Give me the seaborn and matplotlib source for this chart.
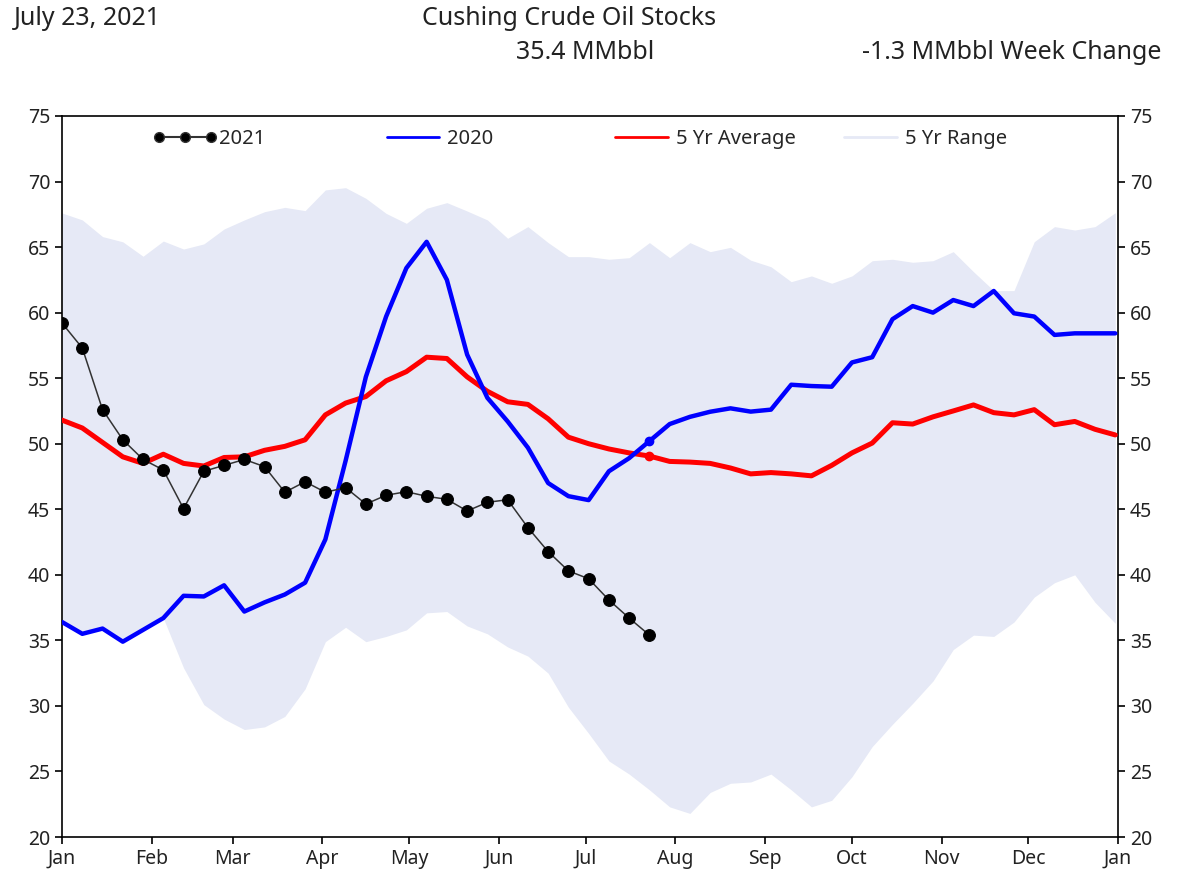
import matplotlib
matplotlib.use('Agg')
import matplotlib.pyplot as plt
import matplotlib.dates as mdates
from matplotlib.lines import Line2D
import numpy as np
import pandas as pd
import seaborn as sns

sns.set_theme(style='ticks')
plt.rcParams['font.family'] = ['Noto Sans', 'DejaVu Sans']

# weekly values, Jan 1 .. Dec 31
weeks = pd.date_range('2021-01-01', periods=53, freq='7D')

stocks_2021 = [59.2, 57.3, 52.6, 50.3, 48.8, 48.0, 45.05, 47.9, 48.35, 48.8,
               48.25, 46.3, 47.1, 46.3, 46.65, 45.4, 46.07, 46.34, 45.99, 45.76,
               44.87, 45.53, 45.73, 43.6, 41.77, 40.3, 39.7, 38.08, 36.7, 35.4]

stocks_2020 = [36.4, 35.5, 35.9, 34.9, 35.8, 36.7, 38.4, 38.35, 39.2, 37.2,
               37.9, 38.5, 39.4, 42.7, 48.7, 55.1, 59.7, 63.4, 65.4, 62.5,
               56.8, 53.5, 51.7, 49.7, 47.0, 46.0, 45.7, 47.9, 48.9, 50.2,
               51.5, 52.05, 52.44, 52.7, 52.45, 52.6, 54.5, 54.4, 54.35, 56.2,
               56.6, 59.5, 60.5, 60.0, 60.96, 60.5, 61.65, 59.95, 59.7, 58.3,
               58.42, 58.42, 58.42]

avg_5yr = [51.8, 51.2, 50.1, 49.0, 48.5, 49.2, 48.5, 48.3, 48.95, 49.0,
           49.5, 49.8, 50.3, 52.2, 53.1, 53.6, 54.8, 55.5, 56.6, 56.5,
           55.1, 54.0, 53.2, 53.0, 51.9, 50.5, 50.0, 49.6, 49.3, 49.06,
           48.65, 48.6, 48.5, 48.15, 47.7, 47.8, 47.7, 47.55, 48.35, 49.3,
           50.05, 51.6, 51.5, 52.05, 52.5, 52.96, 52.37, 52.2, 52.6, 51.45,
           51.7, 51.1, 50.67]

range_high = [67.6, 67.07, 65.8, 65.4, 64.3, 65.46, 64.85, 65.24, 66.38, 67.07,
              67.7, 68.03, 67.78, 69.36, 69.53, 68.72, 67.57, 66.81, 67.96, 68.39,
              67.75, 67.07, 65.67, 66.56, 65.34, 64.27, 64.27, 64.07, 64.19, 65.34,
              64.19, 65.34, 64.65, 64.98, 64.0, 63.5, 62.36, 62.8, 62.24, 62.8,
              63.96, 64.07, 63.84, 63.96, 64.65, 63.12, 61.68, 61.68, 65.41, 66.56,
              66.3, 66.56, 67.62]

range_low = [36.4, 35.5, 35.9, 34.9, 35.8, 36.7, 32.9, 30.1, 29.0, 28.2,
             28.4, 29.2, 31.3, 34.9, 36.0, 34.9, 35.3, 35.8, 37.1, 37.2,
             36.1, 35.5, 34.5, 33.8, 32.5, 29.9, 27.9, 25.8, 24.8, 23.6,
             22.3, 21.8, 23.4, 24.1, 24.2, 24.8, 23.6, 22.3, 22.8, 24.6,
             26.9, 28.6, 30.2, 31.9, 34.3, 35.4, 35.3, 36.4, 38.3, 39.4,
             40.0, 37.9, 36.3]

legend_labels = ['2021', '2020', '5 Yr Average', '5 Yr Range']
report_date = 'July 23, 2021'
week_change = stocks_2021[-1] - stocks_2021[-2]

band_color = '#e6e9f6'
txt_color = '#222222'

df = pd.DataFrame({'Week': weeks, '2020': stocks_2020, 'avg': avg_5yr,
                   'lo': range_low, 'hi': range_high})
df21 = pd.DataFrame({'Week': weeks[:len(stocks_2021)], 'Stocks': stocks_2021})
cur = len(stocks_2021) - 1

fig = plt.figure(figsize=(11.84, 8.88), dpi=100)
ax = fig.add_axes([0.0524, 0.0574, 0.892, 0.812])

ax.fill_between(df.Week, df.lo, df.hi, color=band_color, lw=0, zorder=1)
sns.lineplot(data=df, x='Week', y='avg', color='#ff0000', lw=3.6, ax=ax, zorder=3)
sns.lineplot(data=df, x='Week', y='2020', color='#0000ff', lw=3.2, ax=ax, zorder=4)
ax.plot(df.Week[cur], df['2020'][cur], 'o', color='#0000ff', ms=6, zorder=4)
ax.plot(df.Week[cur], df['avg'][cur], 'o', color='#ff0000', ms=6, zorder=3)
sns.lineplot(data=df21, x='Week', y='Stocks', color='#333333', lw=1.1,
             marker='o', markersize=8.5, markerfacecolor='black',
             markeredgecolor='black', ax=ax, zorder=5)

ax.set_xlim(pd.Timestamp('2021-01-01'), pd.Timestamp('2022-01-01'))
ax.set_ylim(20, 75)
ax.set_yticks(np.arange(20, 76, 5))
ax.xaxis.set_major_locator(mdates.MonthLocator())
ax.xaxis.set_major_formatter(mdates.DateFormatter('%b'))
ax.set_xlabel('')
ax.set_ylabel('')
ax.tick_params(axis='both', labelsize=14, length=5, width=1.2, color='black',
               labelcolor=txt_color, right=True, labelright=True, direction='out')
for s in ax.spines.values():
    s.set_color('black')
    s.set_linewidth(1.2)
    s.set_visible(True)

# legend entries spread evenly across the top, one legend per entry
handles = [
    Line2D([], [], color='#333333', lw=1.5, marker='o', markersize=7, markerfacecolor='black'),
    Line2D([], [], color='#0000ff', lw=2),
    Line2D([], [], color='#ff0000', lw=2),
    Line2D([], [], color=band_color, lw=2),
]
positions = [0.086, 0.302, 0.518, 0.735]
for k, (h, lab, xpos) in enumerate(zip(handles, legend_labels, positions)):
    leg = ax.legend([h], [lab], loc='center left', bbox_to_anchor=(xpos, 0.9675),
                    frameon=False, fontsize=14.5, numpoints=3, handlelength=3.2,
                    handletextpad=0.1, borderpad=0, borderaxespad=0)
    if k < len(handles) - 1:
        ax.add_artist(leg)

fig.text(0.012, 0.979, report_date, fontsize=18, va='center', ha='left', color=txt_color)
fig.text(0.481, 0.979, 'Cushing Crude Oil Stocks', fontsize=18, va='center', ha='center', color=txt_color)
fig.text(0.494, 0.941, f'{stocks_2021[-1]:.1f} MMbbl', fontsize=18, va='center', ha='center', color=txt_color)
fig.text(0.981, 0.941, f'{week_change:.1f} MMbbl Week Change', fontsize=18, va='center', ha='right', color=txt_color)

fig.savefig('out.png', dpi=100)
